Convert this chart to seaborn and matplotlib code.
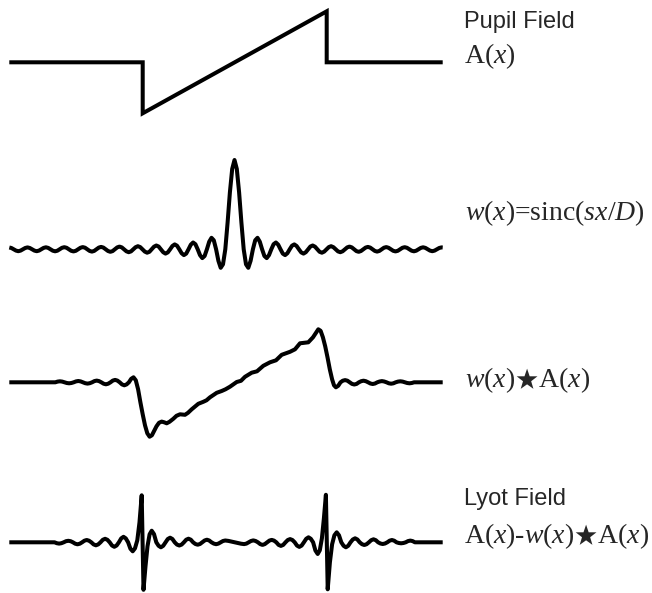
import matplotlib
matplotlib.use("Agg")
import matplotlib.pyplot as plt
import seaborn as sns
import pandas as pd

# ---------------- data ----------------
# Panel 1: pupil field A(x)
pupil_x = [9.3, 142.7, 142.7, 326.7, 326.7, 442.7]
pupil_y = [0, 0, -51, 51, 0, 0]

# Panel 2: w(x) = sinc(sx/D)
sinc_x = [9.3,
          11.4, 13.7, 16.0, 18.3, 20.6, 22.9, 25.2, 27.5, 29.8, 32.1, 34.4, 36.7,
          39.0, 41.3, 43.6, 45.9, 48.2, 50.5, 52.8, 55.1, 57.4, 59.7, 62.0, 64.3,
          66.6, 68.9, 71.2, 73.5, 75.8, 78.1, 80.4, 82.7, 85.0, 87.3, 89.6, 91.9,
          94.2, 96.5, 98.8, 101.1, 103.4, 105.7, 108.0, 110.3, 112.6, 114.9, 117.2,
          119.5, 121.8, 124.1, 126.4, 128.7, 131.0, 133.3, 135.6, 137.9, 140.2,
          142.5, 144.8, 147.1, 149.4, 151.7, 154.0, 156.3, 158.6, 160.9, 163.2,
          165.5, 167.8, 170.1, 172.4, 174.7, 177.0, 179.3, 181.6, 183.9, 186.2,
          188.5, 190.8, 193.1, 195.4, 197.7, 200.0, 202.3, 204.6, 206.9, 209.2,
          211.5, 213.8, 216.1, 218.4, 220.7, 223.0, 225.3, 227.6, 229.9, 232.2,
          234.5,
          236.8, 239.1, 241.4, 243.7, 246.0, 248.3, 250.6, 252.9, 255.2, 257.5,
          259.8, 262.1, 264.4, 266.7, 269.0, 271.3, 273.6, 275.9, 278.2, 280.5,
          282.8, 285.1, 287.4, 289.7, 292.0, 294.3, 296.6, 298.9, 301.2, 303.5,
          305.8, 308.1, 310.4, 312.7, 315.0, 317.3, 319.6, 321.9, 324.2, 326.5,
          328.8, 331.1, 333.4, 335.7, 338.0, 340.3, 342.6, 344.9, 347.2, 349.5,
          351.8, 354.1, 356.4, 358.7, 361.0, 363.3, 365.6, 367.9, 370.2, 372.5,
          374.8, 377.1, 379.4, 381.7, 384.0, 386.3, 388.6, 390.9, 393.2, 395.5,
          397.8, 400.1, 402.4, 404.7, 407.0, 409.3, 411.6, 413.9, 416.2, 418.5,
          420.8, 423.1, 425.4, 427.7, 430.0, 432.3, 434.6, 436.9, 439.2, 441.5,
          442.7]
sinc_y = [1.8,
          1.3, 0, -1.3, -1.9, -1.3, 0, 1.3, 1.9, 1.3, 0, -1.3, -1.9,
          -1.3, 0, 1.4, 2.0, 1.4, 0, -1.4, -2.0, -1.4, 0, 1.5, 2.1,
          1.5, 0, -1.5, -2.1, -1.5, 0, 1.5, 2.2, 1.6, 0, -1.6, -2.3,
          -1.6, 0, 1.7, 2.4, 1.7, 0, -1.7, -2.5, -1.8, 0, 1.9,
          2.7, 1.9, 0, -2.0, -2.9, -2.1, 0, 2.1, 3.1, 2.2,
          0, -2.3, -3.4, -2.5, 0, 2.6, 3.8, 2.8, 0, -2.9,
          -4.3, -3.1, 0, 3.3, 4.9, 3.6, 0, -3.9, -5.8, -4.3,
          0, 4.6, 6.8, 5.1, 0, -5.8, -8.8, -6.7, 0, 7.6,
          11.5, 9.0, 0, -11.5, -18.5, -15.0, 0, 26.8, 57.0, 80.4,
          89.3,
          80.4, 57.0, 26.8, 0, -15.0, -18.5, -11.5, 0, 9.0, 11.5,
          7.6, 0, -6.7, -8.8, -5.8, 0, 5.1, 6.8, 4.6, 0,
          -4.3, -5.8, -3.9, 0, 3.6, 4.9, 3.3, 0, -3.1, -4.3,
          -2.9, 0, 2.8, 3.8, 2.6, 0, -2.5, -3.4, -2.3, 0,
          2.2, 3.1, 2.1, 0, -2.1, -2.9, -2.0, 0, 1.9, 2.7,
          1.9, 0, -1.8, -2.5, -1.7, 0, 1.7, 2.4, 1.7, 0,
          -1.6, -2.3, -1.6, 0, 1.6, 2.2, 1.5, 0, -1.5, -2.1,
          -1.5, 0, 1.5, 2.1, 1.5, 0, -1.4, -2.0, -1.4, 0,
          1.4, 2.0, 1.4, 0, -1.3, -1.9, -1.3, 0, 1.3, 1.9,
          1.8]

# Panel 3: w(x) * A(x)
conv_x = [9.3, 55.3, 57.6, 59.9, 62.2, 64.5, 66.8, 69.1, 71.4, 73.7, 76.0, 78.3,
          80.6, 82.9, 85.2, 87.5, 89.8, 92.1, 94.4, 96.7, 99.0, 101.3, 103.6,
          105.9, 108.2, 110.5, 112.8, 115.1, 117.4, 119.7, 122.0, 124.3, 126.6,
          128.9, 131.2, 133.5, 135.8, 138.1, 140.4, 142.7, 145.0, 147.3, 149.6,
          151.9, 154.2, 156.5, 159.0, 161.7, 164.2, 166.7, 169.5, 173.3, 176.5,
          180.0, 185.0, 188.0, 191.7, 198.3, 203.3, 206.5, 210.0, 216.7, 221.7,
          225.5, 230.0, 236.7, 241.0, 245.0, 251.7, 257.0, 263.3, 270.0, 276.0,
          281.7, 290.0, 295.0, 300.0, 308.3, 313.0, 318.3, 320.6, 322.9, 325.2,
          327.5, 329.8, 332.1, 334.0, 335.9, 338.2, 340.5, 342.8, 345.1, 347.4,
          349.7, 352.0, 354.3, 356.6, 358.9, 361.2, 363.5, 365.8, 368.1, 370.4,
          372.7, 375.0, 377.3, 379.6, 381.9, 384.2, 386.5, 388.8, 391.1, 393.4,
          395.7, 398.0, 400.3, 402.6, 404.9, 407.2, 409.5, 411.8, 414.1, 442.7]
conv_y = [0, 0, 0.7, 1.0, 0.7, 0, -0.7, -1.0, -0.7, 0, 0.9, 1.3,
          0.9, 0, -0.9, -1.3, -0.9, 0, 1.2, 1.7, 1.2, 0, -1.4,
          -2.0, -1.4, 0, 1.7, 2.4, 1.7, 0, -2.1, -3.0, -2.1,
          0, 3.5, 5.0, 2.0, -7.0, -20.0, -32.0, -43.0, -51.0, -54.4,
          -53.0, -48.5, -44.0, -40.5, -39.3, -40.0, -41.0, -39.5, -36.5, -33.5,
          -32.0, -32.5, -30.5, -27.0, -21.5, -19.5, -18.0, -15.0, -10.5, -8.7,
          -7.0, -4.4, 0.3, 1.5, 5.5, 9.6, 11.0, 16.5, 20.0, 22.0,
          27.5, 30.5, 33.0, 39.0, 40.0, 45.0, 53.0, 51.5, 45.0, 36.0,
          25.0, 13.0, 3.0, -3.0, -5.0, -3.5, 0, 1.6, 2.2, 1.6,
          0, -1.6, -2.2, -1.6, 0, 1.1, 1.6, 1.1, 0, -1.2,
          -1.7, -1.2, 0, 0.8, 1.2, 0.8, 0, -1.0, -1.4, -1.0,
          0, 0.7, 1.0, 0.7, 0, -0.7, -1.0, -0.7, 0, 0]

# Panel 4: Lyot field A(x) - w(x) * A(x)
lyot_x = [9.3, 54.5, 56.8, 59.1, 61.4, 63.7, 66.0, 68.3, 70.6, 72.9, 75.2, 77.5,
          79.8, 82.1, 84.4, 86.7, 89.0, 91.3, 93.6, 95.9, 98.2, 100.5, 102.8,
          105.1, 107.4, 109.7, 112.0, 114.3, 116.6, 118.9, 121.2, 123.5, 125.8,
          128.1, 130.4, 132.7, 135.0, 137.3, 139.5, 141.7, 143.5, 145.5, 147.5,
          149.6, 151.7, 154.0, 156.3, 158.6, 160.9, 163.2, 165.5, 167.8, 170.1,
          172.4, 174.7, 177.0, 179.3, 181.6, 183.9, 186.2, 188.5, 190.8, 193.1,
          195.4, 197.7, 200.0, 202.3, 204.6, 206.9, 209.2, 211.5, 213.8, 216.1,
          218.4, 220.7, 223.0, 225.3, 228.4, 231.5, 234.7, 237.9, 241.0, 244.1,
          246.4, 248.7, 251.0, 253.3, 255.6, 257.9, 260.2, 262.5, 264.8, 267.1,
          269.4, 271.7, 274.0, 276.3, 278.6, 280.9, 283.2, 285.5, 287.8, 290.1,
          292.4, 294.7, 297.0, 299.3, 301.6, 303.9, 306.2, 308.5, 310.8, 313.1,
          315.4, 317.7, 319.8, 321.9, 323.9, 325.9, 327.7, 329.9, 332.1, 334.4,
          336.7, 339.0, 341.3, 343.6, 345.9, 348.2, 350.5, 352.8, 355.1, 357.4,
          359.7, 362.0, 364.3, 366.6, 368.9, 371.2, 373.5, 375.8, 378.1, 380.4,
          382.7, 385.0, 387.3, 389.6, 391.9, 394.2, 396.5, 398.8, 401.1, 403.4,
          405.7, 408.0, 410.3, 412.6, 414.9, 442.7]
lyot_y = [0, 0, -0.9, -1.3, -0.9, 0, 1.1, 1.5, 1.1, 0, -1.4, -2.0,
          -1.4, 0, 1.6, 2.3, 1.6, 0, -2.1, -3.0, -2.1, 0, 2.5,
          3.5, 2.5, 0, -3.2, -4.5, -3.2, 0, 3.9, 5.5, 3.9,
          0, -6.4, -9.0, -6.0, 2.0, 20.0, 47.0, -47.5, -24.0, -4.0,
          8.0, 11.6, 8.2, 0, -3.5, -5.0, -3.5, 0, 3.3, 4.6,
          3.3, 0, -2.3, -3.2, -2.3, 0, 2.6, 3.6, 2.6, 0,
          -1.7, -2.4, -1.7, 0, 1.8, 2.6, 1.8, 0, -1.3, -1.9,
          -1.3, 0, 1.3, 1.8, 1.4, 0.7, 0, -0.7, -1.4, -1.8,
          -1.3, 0, 1.3, 1.9, 1.3, 0, -1.8, -2.6, -1.8, 0,
          1.7, 2.4, 1.7, 0, -2.6, -3.6, -2.6, 0, 2.3, 3.2,
          2.3, 0, -3.3, -4.6, -3.3, 0, 3.5, 5.0, 3.5, 0,
          -8.2, -11.7, -8.0, 4.0, 24.0, 47.5, -47.0, -20.0, -2.0, 7.0,
          10.0, 7.0, 0, -3.5, -5.0, -3.5, 0, 2.8, 4.0, 2.8,
          0, -1.9, -2.7, -1.9, 0, 2.1, 3.0, 2.1, 0, -1.2,
          -1.7, -1.2, 0, 1.6, 2.3, 1.6, 0, -0.7, -1.0, -0.7,
          0, 1.2, 1.7, 1.2, 0, 0]

titles = ["Pupil Field", None, None, "Lyot Field"]
formulas = [r"$\mathrm{A}(x)$",
            r"$w(x)\text{=}\mathrm{sinc}(sx/D)$",
            r"$w(x)\bigstar\mathrm{A}(x)$",
            r"$\mathrm{A}(x)\text{-}w(x)\bigstar\mathrm{A}(x)$"]

# ---------------- drawing ----------------
sns.set_theme(style="white")
plt.rcParams["mathtext.fontset"] = "custom"
plt.rcParams["mathtext.rm"] = "Liberation Serif"
plt.rcParams["mathtext.it"] = "Liberation Serif:italic"
plt.rcParams["mathtext.bf"] = "Liberation Serif:bold"
plt.rcParams["mathtext.fallback"] = "stix"

W, H = 652, 593
fig = plt.figure(figsize=(W / 100, H / 100), dpi=100)
fig.patch.set_facecolor("white")

panels = [(pupil_x, pupil_y, 62.3, "miter"),
          (sinc_x, sinc_y, 249.3, "round"),
          (conv_x, conv_y, 382.3, "round"),
          (lyot_x, lyot_y, 542.3, "round")]

for xs, ys, base, join in panels:
    ax = fig.add_axes([0, 0, 1, 1])
    ax.patch.set_alpha(0)
    df = pd.DataFrame({"x": xs, "y": ys})
    sns.lineplot(data=df, x="x", y="y", ax=ax, sort=False, estimator=None,
                 color="black", lw=2.9, solid_joinstyle=join,
                 solid_capstyle="butt")
    ax.set_xlim(0, W)
    ax.set_ylim(-(H - base), base)
    ax.axis("off")

def px(x, y):
    return x / W, 1 - y / H

fig.text(*px(464, 28), titles[0], family="Liberation Sans", fontsize=17,
         va="baseline", ha="left")
fig.text(*px(464, 63), formulas[0], fontsize=20, va="baseline", ha="left")
fig.text(*px(465, 220), formulas[1], fontsize=20, va="baseline", ha="left")
fig.text(*px(465, 387), formulas[2], fontsize=20, va="baseline", ha="left")
fig.text(*px(464, 505), titles[3], family="Liberation Sans", fontsize=17,
         va="baseline", ha="left")
fig.text(*px(464, 543), formulas[3], fontsize=20, va="baseline", ha="left")

fig.savefig("out.png", dpi=100, facecolor="white")
